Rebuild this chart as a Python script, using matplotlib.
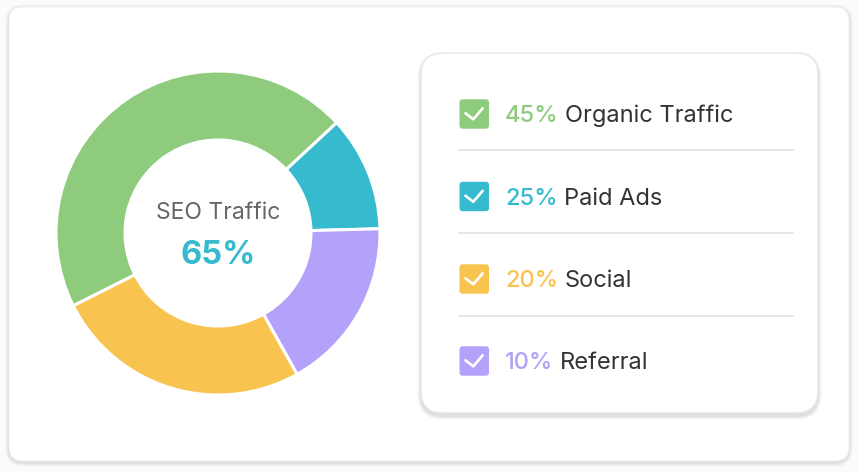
import matplotlib
matplotlib.use("Agg")
import matplotlib.pyplot as plt
from matplotlib.patches import FancyBboxPatch

# ---- data ----
slice_labels = ["Organic Traffic", "Paid Ads", "Referral", "Social"]
slice_values = [45.5, 11.5, 17.3, 25.7]
slice_colors = ["#8FCB7D", "#36BACD", "#B4A1FA", "#F9C34F"]

legend_labels = ["Organic Traffic", "Paid Ads", "Social", "Referral"]
legend_pcts = ["45%", "25%", "20%", "10%"]
legend_colors = ["#8FCB7D", "#36BACD", "#F9C34F", "#B4A1FA"]

center_title = "SEO Traffic"
center_value = "65%"

W, H = 858, 473
fig = plt.figure(figsize=(W / 100, H / 100), dpi=100)
fig.patch.set_facecolor("#fbfbfb")
ax = fig.add_axes([0, 0, 1, 1])
ax.set_xlim(0, W)
ax.set_ylim(H, 0)
ax.axis("off")

FONT = "Inter"


def rounded(x0, y0, x1, y1, r, **kw):
    p = FancyBboxPatch((x0, y0), x1 - x0, y1 - y0,
                       boxstyle=f"round,pad=0,rounding_size={r}", **kw)
    ax.add_patch(p)
    return p


# outer card with soft shadow
for i, a in enumerate([0.025, 0.025, 0.03, 0.03]):
    g = 4 - i
    rounded(9 - g, 7 - g + 1.5, 849 + g, 461 + g + 1.5, 14 + g,
            facecolor="black", edgecolor="none", alpha=a, zorder=1)
rounded(9, 7, 849, 461, 14, facecolor="white", edgecolor="#efefef",
        linewidth=0.6, zorder=2)

# legend panel with shadow
for i, a in enumerate([0.02, 0.03, 0.035, 0.04]):
    g = 4 - i
    rounded(421 - g, 53 - g + 3, 818 + g, 413 + g + 3, 22 + g,
            facecolor="black", edgecolor="none", alpha=a, zorder=3)
rounded(421, 53, 818, 413, 22, facecolor="white", edgecolor="#e6e6e6",
        linewidth=1.0, zorder=4)

# donut
pie_ax = fig.add_axes([56 / W, 1 - 395 / H, 324 / W, 324 / H])
pie_ax.pie(slice_values, colors=slice_colors, startangle=206.7,
           counterclock=False, radius=1,
           wedgeprops=dict(width=69 / 162, edgecolor="white", linewidth=2.2))
pie_ax.set_xlim(-1, 1)
pie_ax.set_ylim(-1, 1)
pie_ax.set_aspect("auto")
pie_ax.axis("off")

ax.text(218, 212.5, center_title, ha="center", va="center", fontsize=16.5,
        color="#666666", family=FONT, zorder=10)
ax.text(218, 255.5, center_value, ha="center", va="center", fontsize=23.5,
        color="#36BACD", family=FONT, fontweight="bold", zorder=10)

# legend rows
row_y = [114, 196.5, 279, 361]
sep_y = [150, 233, 315.7]
for y in sep_y:
    ax.plot([459, 793], [y, y], color="#e2e2e2", linewidth=1.2, zorder=5)

fig.canvas.draw()
renderer = fig.canvas.get_renderer()
inv = ax.transData.inverted()
for y, pct, lab, col in zip(row_y, legend_pcts, legend_labels, legend_colors):
    rounded(459.5, y - 14.7, 489, y + 14.7, 3, facecolor=col,
            edgecolor="none", zorder=6)
    ax.plot([465.5, 473.3, 482.7], [y - 0.7, y + 5.3, y - 5.7],
            color="white", linewidth=1.9, solid_capstyle="round",
            solid_joinstyle="round", zorder=7)
    t = ax.text(505, y + 2, pct, ha="left", va="center", fontsize=17,
                color=col, family=FONT, fontweight="medium", zorder=7)
    bb = t.get_window_extent(renderer)
    x_end = inv.transform((bb.x1, bb.y0))[0]
    ax.text(x_end + 6, y + 2, lab, ha="left", va="center", fontsize=17,
            color="#333333", family=FONT, zorder=7)

fig.savefig("out.png", dpi=100, facecolor=fig.get_facecolor())
